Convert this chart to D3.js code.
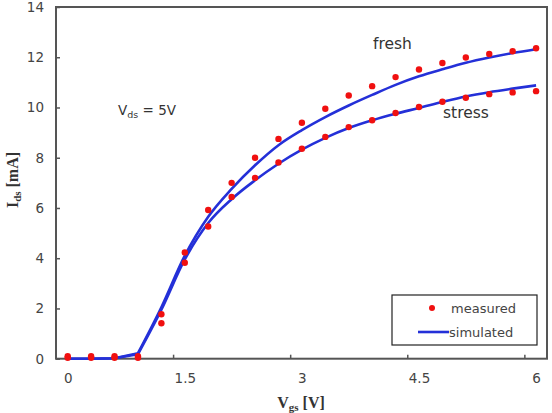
<!DOCTYPE html>
<html>
<head>
    <title></title>
    <style>
        body { margin: 0; background: #fff; }
        text { font-family: "DejaVu Sans", Verdana, sans-serif; }
    </style>
</head>
<body>
<div id="container"></div>

<script src="https://d3js.org/d3.v7.min.js" type="text/javascript"></script>
<script type="text/javascript">
    // gate voltage steps (V)
    const vgs = [0, 0.3, 0.6, 0.9, 1.2, 1.5, 1.8, 2.1, 2.4, 2.7, 3.0, 3.3, 3.6, 3.9, 4.2, 4.5, 4.8, 5.1, 5.4, 5.7, 6.0];
    // measured drain current (mA)
    const freshMeasured = [0.1, 0.1, 0.1, 0.1, 1.77, 4.23, 5.92, 7.0, 8.0, 8.75, 9.39, 9.95, 10.48, 10.85, 11.21, 11.51, 11.77, 11.99, 12.13, 12.24, 12.36];
    const stressMeasured = [0.04, 0.04, 0.04, 0.04, 1.41, 3.82, 5.26, 6.44, 7.2, 7.81, 8.36, 8.83, 9.22, 9.49, 9.78, 10.02, 10.23, 10.39, 10.53, 10.6, 10.65];
    // simulated drain current (mA)
    const freshSimulated = [0, 0, 0.02, 0.22, 2.05, 4.1, 5.65, 6.76, 7.7, 8.5, 9.1, 9.62, 10.08, 10.5, 10.9, 11.24, 11.52, 11.78, 11.99, 12.17, 12.32];
    const stressSimulated = [0, 0, 0.02, 0.18, 1.95, 3.95, 5.4, 6.35, 7.1, 7.76, 8.32, 8.79, 9.18, 9.49, 9.75, 9.98, 10.22, 10.44, 10.61, 10.75, 10.88];

    const xTickLabels = [0, 1.5, 3, 4.5, 6];
    const xTickMarks = [1.35, 2.85, 4.35, 5.85];
    const yTicks = [0, 2, 4, 6, 8, 10, 12, 14];

    let w = 552;
    let h = 413;
    const svg = d3.select('#container')
        .append('svg')
        .attr('width', w)
        .attr('height', h);

    const margin = {top: 7, left: 56, right: 5, bottom: 55};

    let x = d3.scaleLinear().domain([-0.15, 6.14]).range([margin.left, w - margin.right]);
    let y = d3.scaleLinear().domain([0, 14]).range([h - margin.bottom + 0.7, margin.top]);

    const axisColor = '#555';
    const labelColor = '#444';

    // frame
    svg.append('rect')
        .attr('x', margin.left)
        .attr('y', margin.top)
        .attr('width', w - margin.right - margin.left)
        .attr('height', y(0) - margin.top)
        .style('fill', 'none')
        .style('stroke', axisColor)
        .style('stroke-width', 2);

    // y axis
    let yAxis = d3.axisLeft(y).tickValues(yTicks).tickSizeInner(-4).tickSizeOuter(0).tickPadding(12);
    let gy = svg.append('g').attr('transform', `translate(${margin.left}, 0)`).call(yAxis);
    gy.select('.domain').remove();
    gy.selectAll('line').style('stroke', axisColor).style('stroke-width', 1.5);
    gy.selectAll('text').style('font-size', '13.5px').style('fill', labelColor)
        .style('font-family', '"DejaVu Sans", sans-serif');

    // x axis: tick marks and labels are offset in the original
    let xMarks = d3.axisBottom(x).tickValues(xTickMarks).tickSizeInner(-4).tickSizeOuter(0).tickFormat('');
    let gx = svg.append('g').attr('transform', `translate(0, ${y(0)})`).call(xMarks);
    gx.select('.domain').remove();
    gx.selectAll('line').style('stroke', axisColor).style('stroke-width', 1.5);

    let xLabels = d3.axisBottom(x).tickValues(xTickLabels).tickSize(0).tickPadding(15).tickFormat(d3.format('~g'));
    let gxl = svg.append('g').attr('transform', `translate(0, ${y(0)})`).call(xLabels);
    gxl.select('.domain').remove();
    gxl.selectAll('text').style('font-size', '13.5px').style('fill', labelColor)
        .style('font-family', '"DejaVu Sans", sans-serif');

    // axis titles
    let xt = svg.append('text')
        .attr('x', 301)
        .attr('y', 408)
        .attr('text-anchor', 'middle')
        .style('font-family', '"Liberation Serif", serif')
        .style('font-weight', 'bold')
        .style('font-size', '16px')
        .style('fill', '#333');
    xt.append('tspan').text('V');
    xt.append('tspan').attr('dy', 3).style('font-size', '11px').text('gs');
    xt.append('tspan').attr('dy', -3).text(' [V]');

    let yt = svg.append('text')
        .attr('transform', 'translate(18, 180) rotate(-90)')
        .attr('text-anchor', 'middle')
        .style('font-family', '"Liberation Serif", serif')
        .style('font-weight', 'bold')
        .style('font-size', '16px')
        .style('fill', '#333');
    yt.append('tspan').text('I');
    yt.append('tspan').attr('dy', 3).style('font-size', '11px').text('ds');
    yt.append('tspan').attr('dy', -3).text(' [mA]');

    // simulated curves: straight below threshold, smooth above it
    const knee = 3;
    let lineLow = d3.line()
        .x(d => x(d[0]))
        .y(d => y(d[1]));
    let lineHigh = d3.line()
        .x(d => x(d[0]))
        .y(d => y(d[1]))
        .curve(d3.curveMonotoneX);

    [freshSimulated, stressSimulated].forEach(s => {
        let pts = s.map((d, i) => [vgs[i], d]);
        let d = lineLow(pts.slice(0, knee + 1)) + lineHigh(pts.slice(knee)).replace(/^M/, 'L');
        svg.append('path')
            .attr('d', d)
            .style('fill', 'none')
            .style('stroke', '#2430d8')
            .style('stroke-width', 2.6)
            .style('stroke-linejoin', 'round');
    });

    // measured points
    [freshMeasured, stressMeasured].forEach(s => {
        svg.append('g').selectAll('circle')
            .data(s)
            .enter()
            .append('circle')
            .attr('cx', (d, i) => x(vgs[i]))
            .attr('cy', d => y(d))
            .attr('r', 3.2)
            .style('fill', '#f01010');
    });

    // annotations
    svg.append('text').attr('x', 373).attr('y', 49).style('font-size', '15.5px').style('fill', '#333').text('fresh');
    svg.append('text').attr('x', 443).attr('y', 118).style('font-size', '15.5px').style('fill', '#333').text('stress');

    let vds = svg.append('text').attr('x', 118).attr('y', 115).style('font-size', '13.5px').style('fill', '#333');
    vds.append('tspan').text('V');
    vds.append('tspan').attr('dy', 3).style('font-size', '9.5px').text('ds');
    vds.append('tspan').attr('dy', -3).text(' = 5V');

    // legend
    const lg = svg.append('g');
    lg.append('rect')
        .attr('x', 392).attr('y', 295)
        .attr('width', 145).attr('height', 50)
        .style('fill', '#fff')
        .style('stroke', '#222')
        .style('stroke-width', 1.2);
    lg.append('circle').attr('cx', 432).attr('cy', 308).attr('r', 3).style('fill', '#f01010');
    lg.append('text').attr('x', 451).attr('y', 313).style('font-size', '13px').style('fill', '#444').text('measured');
    lg.append('line').attr('x1', 418).attr('x2', 449).attr('y1', 332).attr('y2', 332)
        .style('stroke', '#2430d8').style('stroke-width', 2.6);
    lg.append('text').attr('x', 449).attr('y', 337).style('font-size', '13px').style('fill', '#444').text('simulated');
</script>

</body>
</html>
